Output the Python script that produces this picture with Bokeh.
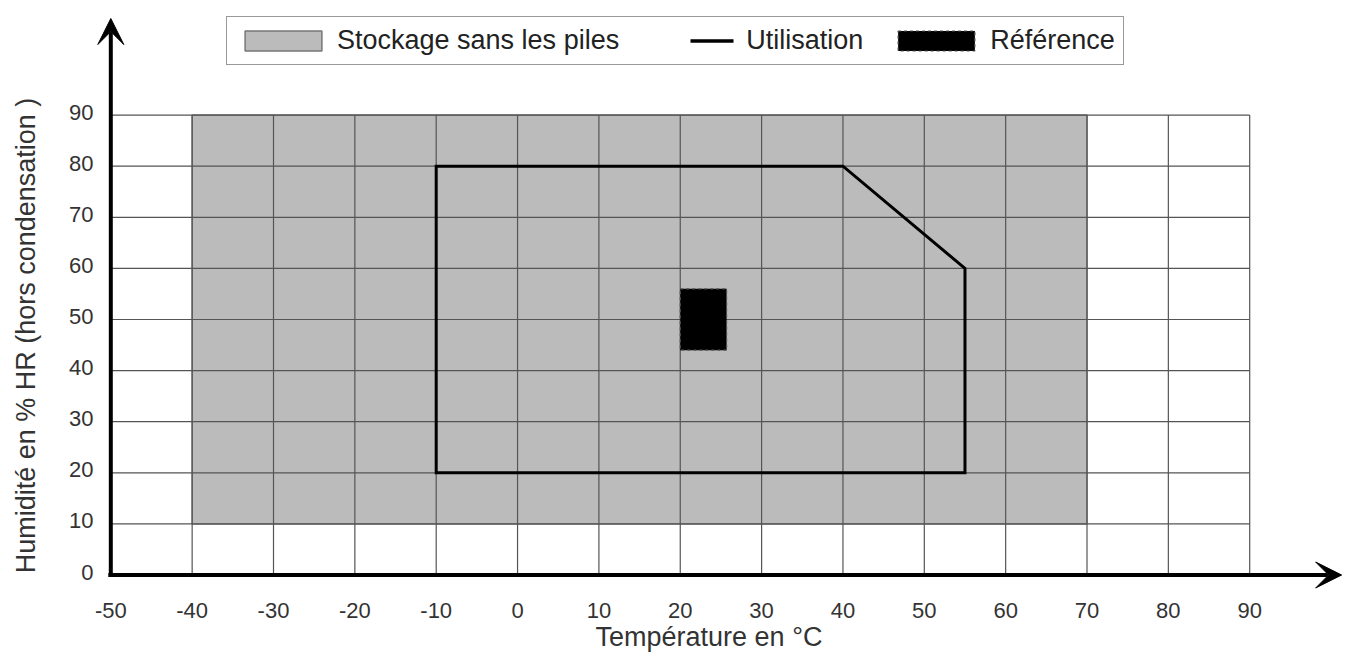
from bokeh.plotting import figure
from bokeh.models import Range1d, Legend, LegendItem, Label, Arrow, VeeHead
from bokeh.core.properties import value
from bokeh.embed import file_html
from bokeh.resources import INLINE
import math

# ---- data ----
x_ticks = [-50, -40, -30, -20, -10, 0, 10, 20, 30, 40, 50, 60, 70, 80, 90]
x_tick_labels = ["-50", "-40", "-30", "-20", "-10", "0", "10", "20", "30", "40", "50", "60", "70", "80", "90"]
y_ticks = [0, 10, 20, 30, 40, 50, 60, 70, 80, 90]
y_tick_labels = ["0", "10", "20", "30", "40", "50", "60", "70", "80", "90"]
grid_x = [-40, -30, -20, -10, 0, 10, 20, 30, 40, 50, 60, 70, 80, 90]
grid_y = [10, 20, 30, 40, 50, 60, 70, 80, 90]
storage_temp = [-40, 70]
storage_hum = [10, 90]
util_temp = [-10, -10, 40, 55, 55]
util_hum = [20, 80, 80, 60, 20]
ref_temp = [20, 25.7]
ref_hum = [44, 56]

# ---- layout constants (data units of the frame) ----
X_LABEL_Y = -6.85      # row of the temperature tick labels
Y_LABEL_X = -52.13     # right edge of the humidity tick labels
X_TITLE_Y = -12.1
Y_TITLE_X = -60.4

FONT = "Liberation Sans"
TXT = "#333333"

p = figure(width=1343, height=652, output_backend="svg", toolbar_location=None,
           x_axis_location=None, y_axis_location=None,
           x_range=Range1d(-63.559, 101.53), y_range=Range1d(-15.166, 112.43),
           min_border_left=0, min_border_right=0, min_border_top=0, min_border_bottom=0)
p.outline_line_color = None
p.xgrid.visible = False
p.ygrid.visible = False
p.background_fill_color = "white"
p.border_fill_color = "white"

# storage area
storage = p.quad(left=[storage_temp[0]], right=[storage_temp[1]],
                 bottom=[storage_hum[0]], top=[storage_hum[1]],
                 fill_color="#bbbbbb", line_color="#777777", line_width=1.5)

# grid
p.segment(x0=grid_x, y0=[y_ticks[0]] * len(grid_x), x1=grid_x, y1=[y_ticks[-1]] * len(grid_x),
          line_color="#555555", line_width=1.2)
p.segment(x0=[x_ticks[0]] * len(grid_y), y0=grid_y, x1=[x_ticks[-1]] * len(grid_y), y1=grid_y,
          line_color="#555555", line_width=1.2)

# utilisation polygon
p.patch(util_temp, util_hum, fill_alpha=0, line_color="black", line_width=3, line_join="miter")

# reference box
ref = p.quad(left=[ref_temp[0]], right=[ref_temp[1]], bottom=[ref_hum[0]], top=[ref_hum[1]],
             fill_color="black", line_color="#555555", line_width=1.2, line_dash="3 3")

# legend-only line swatch (single point -> draws nothing on the plot)
util_leg = p.line(x=util_temp[:1], y=util_hum[:1], line_color="black", line_width=3.5,
                  line_dash="0 46 43 7")

# axes arrows
p.add_layout(Arrow(x_start=-50.3, y_start=0, x_end=101.3, y_end=0, line_width=4, line_color="black",
                   end=VeeHead(size=26, fill_color="black", line_color="black")))
p.add_layout(Arrow(x_start=-50, y_start=-0.4, x_end=-50, y_end=108.9, line_width=4, line_color="black",
                   end=VeeHead(size=26, fill_color="black", line_color="black")))

# tick labels
p.text(x=x_ticks, y=[X_LABEL_Y] * len(x_ticks), text=x_tick_labels,
       text_font=value(FONT), text_font_size="22px", text_color=TXT,
       text_align="center", text_baseline="middle")
p.text(x=[Y_LABEL_X] * len(y_ticks), y=y_ticks, text=y_tick_labels, y_offset=-3,
       text_font=value(FONT), text_font_size="22px", text_color=TXT,
       text_align="right", text_baseline="middle")

# axis titles
p.add_layout(Label(x=23.53, y=X_TITLE_Y, text="Température en °C",
                   text_font=FONT, text_font_size="27px", text_color=TXT,
                   text_align="center", text_baseline="alphabetic"))
p.add_layout(Label(x=Y_TITLE_X, y=46.87, text="Humidité en % HR (hors condensation )",
                   angle=math.pi / 2, text_font=FONT, text_font_size="27px", text_color=TXT,
                   text_align="center", text_baseline="middle"))

legend = Legend(items=[
    LegendItem(label="Stockage sans les piles", renderers=[storage]),
    LegendItem(label="Utilisation", renderers=[util_leg]),
    LegendItem(label="Référence", renderers=[ref]),
], orientation="horizontal", location=(226, 587), glyph_width=96, glyph_height=25,
    label_standoff=6, spacing=25, padding=8, margin=0,
    label_text_font=FONT, label_text_font_size="27px", label_text_color="#222222",
    border_line_color="#333333", border_line_width=1, background_fill_color="white",
    background_fill_alpha=1)
p.add_layout(legend)

open("out.html", "w").write(file_html(p, INLINE))
